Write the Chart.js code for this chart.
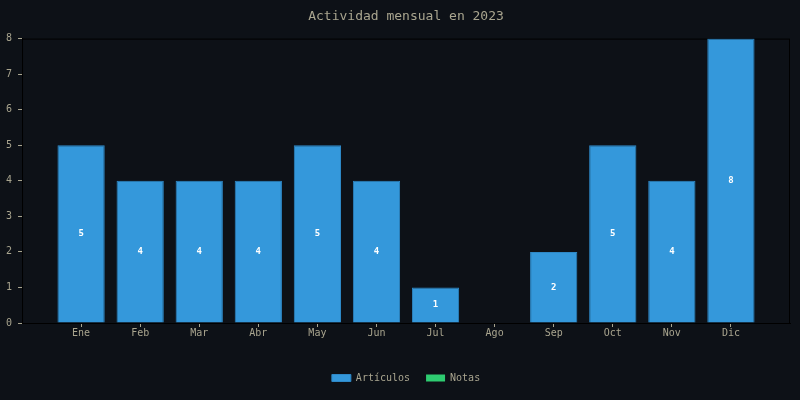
<!DOCTYPE html>
<html>
<head>
<meta charset="utf-8">
<script src="https://cdn.jsdelivr.net/npm/chart.js@4/dist/chart.umd.min.js"></script>
<style>
  html, body { margin: 0; padding: 0; background: #0d1117; }
  #wrap { width: 800px; height: 400px; }
</style>
</head>
<body>
<div id="wrap"><canvas id="actividadChart"></canvas></div>
<script>
const meses = ['Ene', 'Feb', 'Mar', 'Abr', 'May', 'Jun', 'Jul', 'Ago', 'Sep', 'Oct', 'Nov', 'Dic'];
const articulos = [5, 4, 4, 4, 5, 4, 1, 0, 2, 5, 4, 8];
const notas = [0, 0, 0, 0, 0, 0, 0, 0, 0, 0, 0, 0];
const yTicks = [0, 1, 2, 3, 4, 5, 6, 7, 8];

const textColor = '#a9a58f';
const fontMono = 'DejaVu Sans Mono';

// month n sits at x = n (1..12), axis runs 0..13
function puntos(valores) {
    return valores.map(function(v, i) { return { x: i + 1, y: v }; });
}

// recuadro del area + titulo y leyenda centrados sobre el area
const borderPlugin = {
    id: 'areaBorder',
    beforeDraw(chart) {
        const a = chart.chartArea;
        [chart.titleBlock, chart.legend].forEach(function(box) {
            if (!box) return;
            box.left = a.left;
            box.right = a.right;
            box.width = a.right - a.left;
        });
    },
    beforeDatasetsDraw(chart) {
        const a = chart.chartArea;
        const ctx = chart.ctx;
        ctx.save();
        ctx.strokeStyle = '#000000';
        ctx.lineWidth = 1;
        ctx.strokeRect(a.left + 0.5, a.top + 0.5, a.right - a.left - 1, a.bottom - a.top);
        ctx.restore();
    }
};

// etiquetas blancas en el centro de cada barra
const labelPlugin = {
    id: 'barLabels',
    afterDatasetsDraw(chart) {
        const ctx = chart.ctx;
        ctx.save();
        ctx.fillStyle = '#ffffff';
        ctx.font = 'bold 9px "' + fontMono + '"';
        ctx.textAlign = 'center';
        ctx.textBaseline = 'middle';
        chart.data.datasets.forEach(function(ds, di) {
            const meta = chart.getDatasetMeta(di);
            meta.data.forEach(function(bar, i) {
                const v = ds.data[i].y;
                if (!v) return;
                ctx.fillText(String(v), bar.x, (bar.y + bar.base) / 2);
            });
        });
        ctx.restore();
    }
};

const ctx = document.getElementById('actividadChart');
new Chart(ctx, {
    type: 'bar',
    data: {
        datasets: [{
            label: 'Artículos',
            data: puntos(articulos),
            backgroundColor: '#3498db',
            borderColor: '#2e88c6',
            borderWidth: 1,
            barPercentage: 1.0,
            categoryPercentage: 0.8
        }, {
            label: 'Notas',
            data: puntos(notas),
            backgroundColor: '#2ecc71',
            borderColor: '#2ecc71',
            borderWidth: 0,
            barPercentage: 1.0,
            categoryPercentage: 0.8
        }]
    },
    options: {
        responsive: true,
        maintainAspectRatio: false,
        animation: false,
        layout: { padding: { left: 0, right: 10, top: 1, bottom: 7 } },
        plugins: {
            title: {
                display: true,
                text: 'Actividad mensual en 2023',
                color: textColor,
                font: { family: fontMono, size: 13, weight: 'normal' },
                padding: { top: 8, bottom: 14 }
            },
            legend: {
                position: 'bottom',
                labels: {
                    color: textColor,
                    font: { family: fontMono, size: 10 },
                    boxWidth: 19,
                    boxHeight: 7,
                    padding: 16
                }
            },
            tooltip: { enabled: false }
        },
        scales: {
            x: {
                type: 'linear',
                min: 0,
                max: 13,
                offset: false,
                stacked: true,
                afterBuildTicks(axis) {
                    axis.ticks = meses.map(function(m, i) { return { value: i + 1 }; });
                },
                afterFit(axis) {
                    axis.height += 18;
                },
                ticks: {
                    color: textColor,
                    font: { family: fontMono, size: 10 },
                    padding: 0,
                    maxRotation: 0,
                    callback: function(v) { return meses[v - 1]; }
                },
                grid: { offset: false, drawOnChartArea: false, color: textColor, tickLength: 4 },
                border: { display: true, color: '#000000' }
            },
            y: {
                min: 0,
                max: 8,
                stacked: true,
                afterBuildTicks(axis) {
                    axis.ticks = yTicks.map(function(v) { return { value: v }; });
                },
                ticks: {
                    color: textColor,
                    font: { family: fontMono, size: 10 },
                    padding: 6
                },
                grid: { drawOnChartArea: false, color: textColor, tickLength: 4 },
                border: { display: true, color: '#000000' }
            }
        }
    },
    plugins: [borderPlugin, labelPlugin]
});
</script>
</body>
</html>
